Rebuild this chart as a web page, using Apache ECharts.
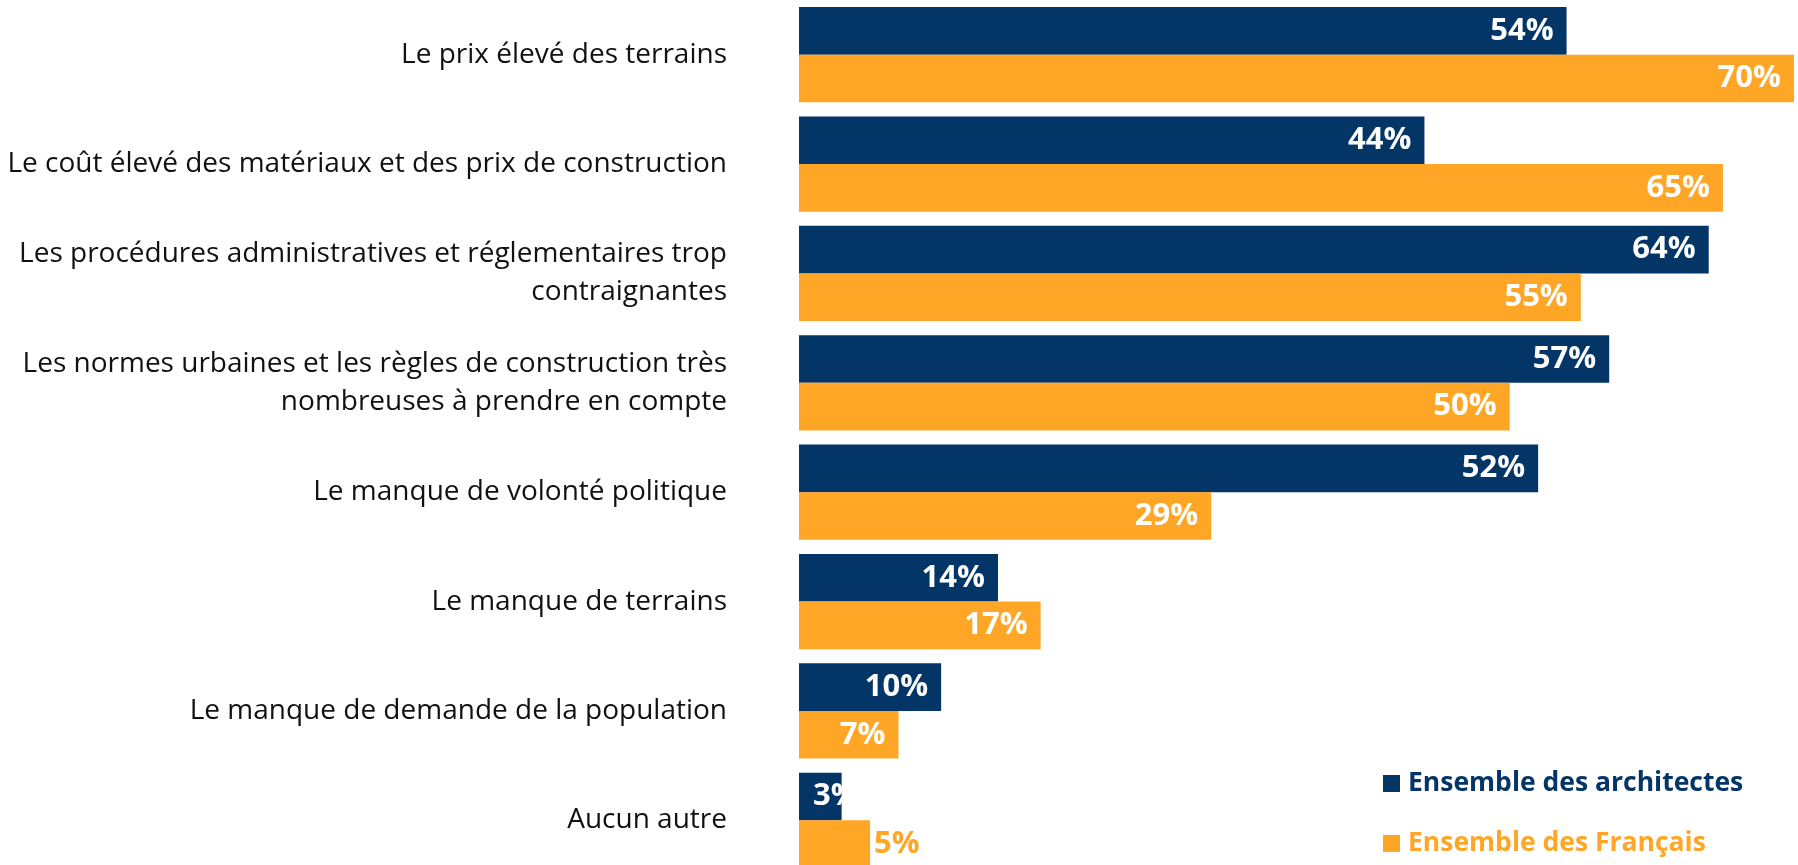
<!DOCTYPE html>
<html>
<head>
<meta charset="utf-8">
<script src="https://cdn.jsdelivr.net/npm/echarts@6/dist/echarts.min.js"></script>
<style>
  html, body { margin: 0; padding: 0; background: #fff; }
  #chart { width: 1798px; height: 865px; }
</style>
</head>
<body>
<div id="chart"></div>
<script>
// categories, top to bottom
const categories = [
  'Le prix élevé des terrains',
  'Le coût élevé des matériaux et des prix de construction',
  'Les procédures administratives et réglementaires trop\ncontraignantes',
  'Les normes urbaines et les règles de construction très\nnombreuses à prendre en compte',
  'Le manque de volonté politique',
  'Le manque de terrains',
  'Le manque de demande de la population',
  'Aucun autre'
];
const architectes = [54, 44, 64, 57, 52, 14, 10, 3];
const francais = [70, 65, 55, 50, 29, 17, 7, 5];
const seriesNames = ['Ensemble des architectes', 'Ensemble des Français'];

const NAVY = '#033567';
const ORANGE = '#FFA626';
const FONT = '"Open Sans", "DejaVu Sans", sans-serif';

const valueLabel = {
  show: true,
  position: 'insideRight',
  distance: 13,
  color: '#fff',
  fontFamily: FONT,
  fontWeight: 'bold',
  fontSize: 31,
  formatter: '{c}%'
};

// small bars: the label doesn't fit inside
function buildData(values, color) {
  return values.map(function (v) {
    if (v <= 3) {
      return { value: v, label: { position: 'insideLeft', distance: 14 } };
    }
    if (v <= 5) {
      return { value: v, label: { position: 'right', distance: 4, color: color } };
    }
    return v;
  });
}

const chart = echarts.init(document.getElementById('chart'));
chart.setOption({
  backgroundColor: '#fff',
  animation: false,
  grid: { left: 799, right: 4, top: 0, height: 875, outerBoundsMode: 'none', containLabel: false },
  legend: {
    orient: 'vertical',
    left: 1378,
    top: 765,
    itemWidth: 17,
    itemHeight: 17,
    itemGap: 33,
    icon: 'rect',
    textStyle: { fontFamily: FONT, fontWeight: 'bold', fontSize: 26.5, padding: [0, 0, 0, 3] },
    data: [
      { name: seriesNames[0], textStyle: { color: NAVY } },
      { name: seriesNames[1], textStyle: { color: ORANGE } }
    ]
  },
  xAxis: {
    type: 'value',
    min: 0,
    max: 70,
    show: false
  },
  yAxis: {
    type: 'category',
    inverse: true,
    data: categories,
    axisLine: { show: false },
    axisTick: { show: false },
    axisLabel: {
      margin: 72,
      align: 'right',
      color: '#111',
      fontFamily: FONT,
      fontSize: 28,
      lineHeight: 38,
      padding: [0, 0, 14, 0]
    }
  },
  series: [
    {
      name: seriesNames[0],
      type: 'bar',
      barGap: '0%',
      barCategoryGap: '13%',
      itemStyle: { color: NAVY },
      label: valueLabel,
      data: buildData(architectes, NAVY)
    },
    {
      name: seriesNames[1],
      type: 'bar',
      itemStyle: { color: ORANGE },
      label: valueLabel,
      data: buildData(francais, ORANGE)
    }
  ]
});
</script>
</body>
</html>
